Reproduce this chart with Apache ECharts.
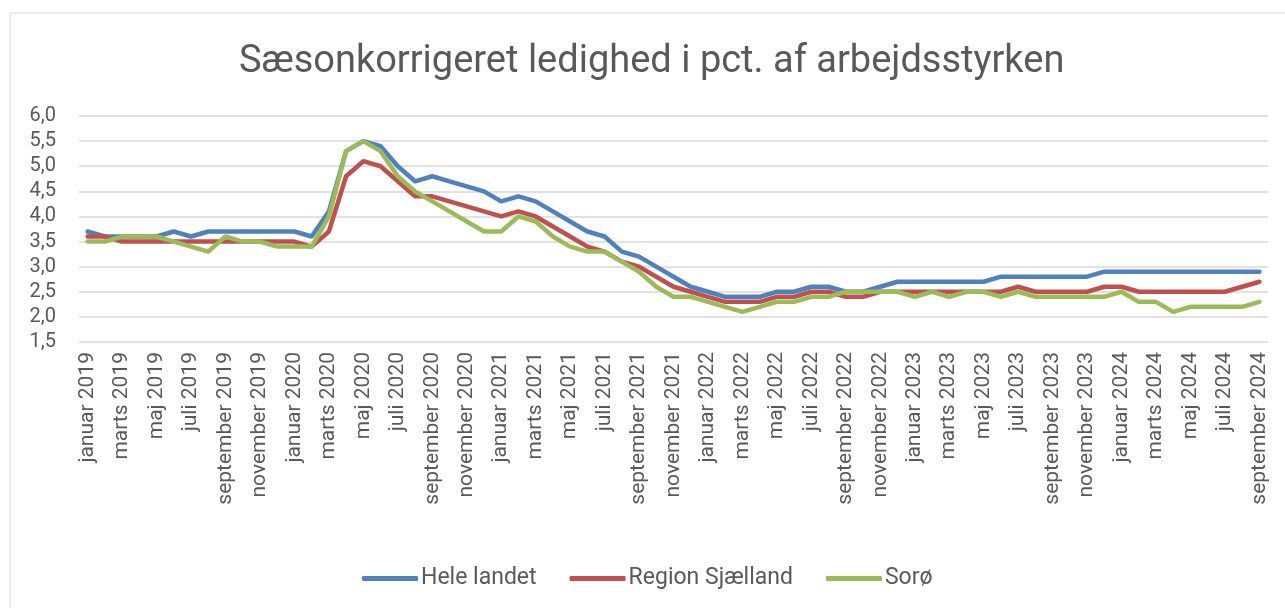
<!DOCTYPE html>
<html>
<head>
<meta charset="utf-8">
<script src="https://cdn.jsdelivr.net/npm/echarts@6/dist/echarts.min.js"></script>
<style>
html,body{margin:0;padding:0;background:#fff;}
#chart{width:1285px;height:608px;}
</style>
</head>
<body>
<div id="chart"></div>
<script>
const monthNames = ['januar','februar','marts','april','maj','juni','juli','august','september','oktober','november','december'];
const categories = [];
for (let y = 2019; y <= 2024; y++) {
  for (let m = 0; m < 12; m++) {
    if (y === 2024 && m > 8) break;
    categories.push(monthNames[m] + ' ' + y);
  }
}
const heleLandet = [3.7,3.6,3.6,3.6,3.6,3.7,3.6,3.7,3.7,3.7,3.7,3.7,3.7,3.6,4.1,5.3,5.5,5.4,5.0,4.7,4.8,4.7,4.6,4.5,4.3,4.4,4.3,4.1,3.9,3.7,3.6,3.3,3.2,3.0,2.8,2.6,2.5,2.4,2.4,2.4,2.5,2.5,2.6,2.6,2.5,2.5,2.6,2.7,2.7,2.7,2.7,2.7,2.7,2.8,2.8,2.8,2.8,2.8,2.8,2.9,2.9,2.9,2.9,2.9,2.9,2.9,2.9,2.9,2.9];
const regionSjaelland = [3.6,3.6,3.5,3.5,3.5,3.5,3.5,3.5,3.5,3.5,3.5,3.5,3.5,3.4,3.7,4.8,5.1,5.0,4.7,4.4,4.4,4.3,4.2,4.1,4.0,4.1,4.0,3.8,3.6,3.4,3.3,3.1,3.0,2.8,2.6,2.5,2.4,2.3,2.3,2.3,2.4,2.4,2.5,2.5,2.4,2.4,2.5,2.5,2.5,2.5,2.5,2.5,2.5,2.5,2.6,2.5,2.5,2.5,2.5,2.6,2.6,2.5,2.5,2.5,2.5,2.5,2.5,2.6,2.7];
const soroe = [3.5,3.5,3.6,3.6,3.6,3.5,3.4,3.3,3.6,3.5,3.5,3.4,3.4,3.4,4.0,5.3,5.5,5.3,4.8,4.5,4.3,4.1,3.9,3.7,3.7,4.0,3.9,3.6,3.4,3.3,3.3,3.1,2.9,2.6,2.4,2.4,2.3,2.2,2.1,2.2,2.3,2.3,2.4,2.4,2.5,2.5,2.5,2.5,2.4,2.5,2.4,2.5,2.5,2.4,2.5,2.4,2.4,2.4,2.4,2.4,2.5,2.3,2.3,2.1,2.2,2.2,2.2,2.2,2.3];
const seriesNames = ['Hele landet','Region Sjælland','Sorø'];
const yTicks = [1.5, 6.0, 0.5]; // min, max, interval

const chart = echarts.init(document.getElementById('chart'), null, {renderer:'canvas'});
const txt = '#595959';
const colors = ['#4F81BD','#C0504D','#9BBB59'];
const mk = (name, data, i) => ({
  name: name, type: 'line', data: data, symbol: 'none', smooth: false,
  lineStyle: {width: 4.5, color: colors[i], cap: 'round', join: 'round'},
  itemStyle: {color: colors[i]}, animation: false
});
chart.setOption({
  animation: false,
  color: colors,
  graphic: [{type:'rect', shape:{x:10, y:13, width:1290, height:620}, style:{fill:'none', stroke:'#D9D9D9', lineWidth:1}, silent:true}],
  title: {
    text: 'Sæsonkorrigeret ledighed i pct. af arbejdsstyrken',
    left: 234, top: 38,
    textStyle: {fontFamily:'Roboto', fontSize: 38, fontWeight: 'normal', color: txt}
  },
  grid: {left: 79, right: 17, top: 116, bottom: 266, containLabel: false},
  legend: {
    top: 562, left: 357, itemWidth: 56, itemHeight: 5, itemGap: 33,
    icon: 'roundRect',
    textStyle: {fontFamily:'Roboto', fontSize: 23, color: txt, padding:[0,0,0,-2]},
    data: seriesNames
  },
  xAxis: {
    type: 'category', data: categories, boundaryGap: true,
    axisLine: {show: false}, axisTick: {show: false},
    axisLabel: {interval: 1, rotate: 90, fontFamily:'Roboto', fontSize: 21, color: txt, margin: 10}
  },
  yAxis: {
    type: 'value', min: yTicks[0], max: yTicks[1], interval: yTicks[2],
    axisLine: {show: false}, axisTick: {show: false},
    splitLine: {lineStyle: {color: '#D9D9D9', width: 1.5}},
    axisLabel: {fontFamily:'Roboto', fontSize: 20, color: txt, margin: 23,
      formatter: v => v.toFixed(1).replace('.', ',')}
  },
  series: [mk(seriesNames[0], heleLandet, 0), mk(seriesNames[1], regionSjaelland, 1), mk(seriesNames[2], soroe, 2)]
});
</script>
</body>
</html>
